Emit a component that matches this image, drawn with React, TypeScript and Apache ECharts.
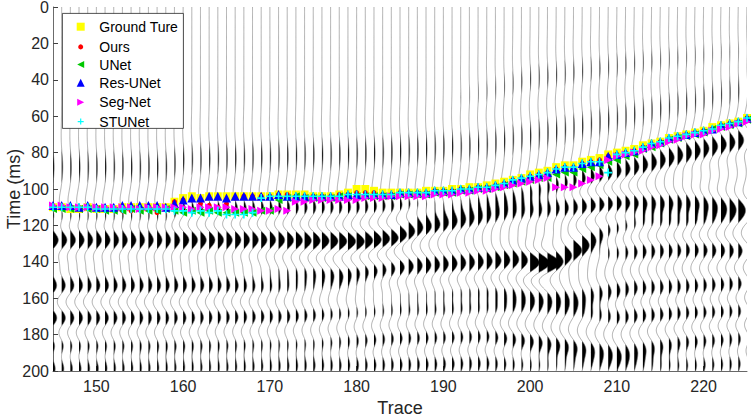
import React, { useEffect, useRef } from 'react';
import * as echarts from 'echarts';

const TRACES = [
  145, 146, 147, 148, 149, 150, 151, 152, 153, 154, 155, 156, 157, 158, 159, 160, 161, 162, 163, 164,
  165, 166, 167, 168, 169, 170, 171, 172, 173, 174, 175, 176, 177, 178, 179, 180, 181, 182, 183, 184,
  185, 186, 187, 188, 189, 190, 191, 192, 193, 194, 195, 196, 197, 198, 199, 200, 201, 202, 203, 204,
  205, 206, 207, 208, 209, 210, 211, 212, 213, 214, 215, 216, 217, 218, 219, 220, 221, 222, 223, 224, 225,
];

const GROUND_TRUTH = [
  110, 110, 111, 111, 110, 111, 111, 111, 110, 110, 110, 110, 110, 110,
  107, 105, 104, 105, 104, 104, 104, 104, 104, 104, 104, 104, 103, 103,
  103, 103, 104, 104, 104, 103, 102, 100, 100, 101, 102, 102, 102, 102, 102, 101, 101, 101, 100, 100, 99, 99, 98, 97, 96,
  95, 94, 92, 91, 90, 88, 87, 87, 85, 84, 83, 81, 80, 79, 78, 76, 75, 74, 72, 71, 70, 69, 68, 66, 65, 64, 63, 61,
];
const OURS = [
  110, 110, 110, 111, 110, 110, 111, 111, 112, 112, 111, 111, 113, 111,
  107, 106, 106, 108, 109, 110, 108, 105, 104, 104, 104, 104, 103, 103,
  104, 104, 104, 104, 104, 103, 103, 102, 102, 102, 103, 103, 102, 102, 102, 102, 101, 101, 101, 100, 100, 99, 99, 98, 97,
  95, 94, 93, 92, 91, 89, 88, 88, 86, 85, 84, 82, 81, 80, 79, 77, 76, 74, 73, 71, 70, 69, 68, 67, 65, 64, 63, 61,
];
const UNET = [
  111, 111, 111, 111, 111, 111, 112, 112, 112, 111, 112, 112, 112, 111,
  112, 113, 112, 113, 112, 113, 113, 113, 113, 113, 112, 112, 106, 105,
  104, 105, 105, 105, 105, 104, 104, 104, 104, 104, 104, 104, 103, 103, 103, 103, 102, 102, 102, 101, 101, 100, 100, 99, 98,
  97, 96, 95, 94, 94, 92, 91, 91, 89, 88, 87, 85, 84, 82, 81, 78, 77, 75, 73, 72, 71, 70, 69, 67, 66, 65, 64, 62,
];
const RES_UNET = [
  109, 109, 109, 110, 109, 110, 110, 110, 109, 109, 109, 109, 109, 110,
  108, 106, 105, 105, 104, 104, 105, 104, 104, 104, 104, 104, 103, 104,
  104, 104, 104, 104, 104, 104, 103, 103, 103, 103, 103, 103, 102, 102, 102, 102, 101, 101, 101, 100, 100, 99, 99, 98, 97,
  95, 94, 93, 92, 91, 89, 88, 88, 86, 85, 85, 82, 81, 80, 79, 77, 75, 74, 72, 71, 70, 69, 68, 67, 65, 64, 63, 61,
];
const SEG_NET = [
  109, 109, 110, 110, 110, 110, 110, 110, 110, 110, 111, 110, 110, 110,
  110, 110, 111, 110, 110, 110, 110, 111, 111, 111, 112, 112, 111, 112,
  107, 107, 106, 106, 106, 106, 106, 106, 105, 105, 105, 104, 104, 104, 104, 104, 103, 103, 103, 102, 102, 101, 101, 100, 99,
  98, 97, 96, 95, 94, 99, 99, 99, 97, 95, 93, 84, 82, 81, 80, 79, 77, 76, 74, 73, 71, 70, 70, 68, 67, 66, 64, 63,
];
const STUNET = [
  110, 110, 110, 110, 110, 111, 111, 111, 111, 111, 111, 111, 111, 111,
  112, 112, 113, 112, 113, 112, 114, 114, 114, 113, 105, 104, 104, 104,
  104, 104, 104, 104, 104, 104, 103, 103, 103, 103, 103, 103, 102, 102, 102, 102, 101, 101, 101, 100, 100, 99, 99, 98, 97,
  95, 94, 93, 92, 91, 89, 88, 88, 86, 85, 85, 91, 81, 80, 79, 77, 75, 74, 72, 71, 70, 69, 68, 67, 65, 64, 63, 61,
];

const X_TICKS = [150, 160, 170, 180, 190, 200, 210, 220];

// Reflection events read from the section: [trace, time (ms), amplitude] control points, f = peak frequency (Hz)
type SeisEvent = { f: number; pts: number[][] };
const EVENTS: SeisEvent[] = [
  { f: 22, pts: [[145, 88, 0.13], [158, 88, 0.13], [160, 84, 0.12], [183, 80, 0.13], [195, 75, 0.12], [205, 66, 0.12], [215, 55, 0.12], [225, 44, 0.12]] },
  { f: 25, pts: [[192, 52, 0.05], [200, 40, 0.1], [212, 32, 0.1], [225, 25, 0.08]] },
  { f: 38, pts: [[145, 116, 0.45], [158, 116, 0.45], [160, 112, 0.4], [183, 110, 0.4], [190, 109, 0.45], [198, 104, 0.5], [205, 96, 0.55], [212, 88, 0.6], [218, 80, 0.65], [225, 72, 0.65]] },
  { f: 38, pts: [[145, 128, 0.9], [170, 128, 0.8], [180, 129, 1.0], [184, 127, 0.95], [187, 121, 0.85], [192, 117, 0.8], [197, 113, 0.6], [203, 110, 0.6], [210, 108, 0.8], [218, 108, 0.8], [225, 110, 0.8]] },
  { f: 38, pts: [[145, 141, 0.3], [165, 141, 0.25], [172, 145, 0.4], [178, 147, 0.65], [185, 143, 0.7], [192, 141, 0.7], [198, 139, 0.75], [202, 141, 0.8]] },
  { f: 38, pts: [[200, 142, 0.4], [203, 140, 0.85], [206, 130, 0.75], [209, 122, 0.6], [213, 118, 0.65], [218, 118, 0.7], [225, 116, 0.55]] },
  { f: 38, pts: [[205, 135, 0.2], [212, 134, 0.5], [218, 133, 0.55], [225, 134, 0.55]] },
  { f: 38, pts: [[145, 153, 0.6], [165, 153, 0.55], [175, 155, 0.4], [185, 157, 0.4], [195, 156, 0.5], [205, 160, 0.6], [212, 155, 0.5], [218, 154, 0.5], [225, 152, 0.5]] },
  { f: 38, pts: [[145, 171, 0.6], [160, 171, 0.5], [172, 170, 0.5], [180, 168, 0.4], [190, 167, 0.5], [200, 165, 0.5], [210, 170, 0.5], [218, 168, 0.55], [225, 167, 0.5]] },
  { f: 38, pts: [[145, 186, 0.5], [160, 186, 0.5], [175, 185, 0.4], [185, 182, 0.5], [195, 181, 0.5], [203, 186, 0.65], [210, 190, 0.55], [218, 184, 0.55], [225, 182, 0.5]] },
  { f: 38, pts: [[145, 198, 0.45], [165, 197, 0.4], [180, 196, 0.4], [195, 195, 0.4], [210, 197, 0.4], [225, 195, 0.4]] },
];

const GAIN = 1.0;
const TIMES: number[] = [];
for (let t = 0; t <= 200; t += 0.5) TIMES.push(t);

function ricker(tauMs: number, f: number) {
  const a = (Math.PI * f * tauMs) / 1000;
  const a2 = a * a;
  return (1 - 2 * a2) * Math.exp(-a2);
}

function eventAt(ev: SeisEvent, n: number): [number, number] | null {
  const p = ev.pts;
  if (n < p[0][0] || n > p[p.length - 1][0]) return null;
  for (let i = 0; i < p.length - 1; i++) {
    if (n >= p[i][0] && n <= p[i + 1][0]) {
      const r = (n - p[i][0]) / (p[i + 1][0] - p[i][0] || 1);
      return [p[i][1] + r * (p[i + 1][1] - p[i][1]), p[i][2] + r * (p[i + 1][2] - p[i][2])];
    }
  }
  return [p[0][1], p[0][2]];
}

const WIGGLES: number[][] = TRACES.map((n) => {
  const evs = EVENTS.map((ev) => ({ e: eventAt(ev, n), f: ev.f }));
  return TIMES.map((t) => {
    let s = 0;
    for (const { e, f } of evs) {
      if (!e) continue;
      s += e[1] * ricker(t - e[0], f);
    }
    return s;
  });
});

const FONT = '"Liberation Sans", Arial, Helvetica, sans-serif';

const LEFT_TRI = 'path://M0,5L10,0L10,10Z';
const RIGHT_TRI = 'path://M10,5L0,0L0,10Z';
const PLUS = 'path://M4,0H6V4H10V6H6V10H4V6H0V4H4Z';

const METHODS = [
  { name: 'Ground Ture', data: GROUND_TRUTH, color: '#ffff00', symbol: 'rect', size: 8, legendSize: 8 },
  { name: 'Ours', data: OURS, color: '#ff0000', symbol: 'circle', size: 5, legendSize: 5 },
  { name: 'UNet', data: UNET, color: '#00c800', symbol: LEFT_TRI, size: 8, legendSize: 7 },
  { name: 'Res-UNet', data: RES_UNET, color: '#0000ff', symbol: 'triangle', size: 9, legendSize: 8 },
  { name: 'Seg-Net', data: SEG_NET, color: '#ff00ff', symbol: RIGHT_TRI, size: 8, legendSize: 7 },
  { name: 'STUNet', data: STUNET, color: '#00ffff', symbol: PLUS, size: 8, legendSize: 6 },
];

const LEGEND_Y = [23.7, 42.4, 61.1, 79.8, 98.8, 117.6];

export default function App() {
  const ref = useRef<HTMLDivElement>(null);
  useEffect(() => {
    if (!ref.current) return;
    const chart = echarts.init(ref.current, null, { renderer: 'svg' });

    const traceSeries = {
      type: 'custom',
      name: 'traces',
      data: TRACES.map((n) => [n, 0]),
      clip: true,
      silent: true,
      z: 1,
      renderItem: (params: any, api: any) => {
        const idx = params.dataIndex;
        const n = TRACES[idx];
        const amps = WIGGLES[idx];
        const line: number[][] = [];
        const children: any[] = [];
        let run: number[][] | null = null;
        for (let k = 0; k < TIMES.length; k++) {
          const a = amps[k];
          const p = api.coord([n + a * GAIN, TIMES[k]]);
          line.push(p);
          if (a > 0) {
            if (!run) {
              let tz = TIMES[k];
              if (k > 0) {
                const a0 = amps[k - 1];
                tz = TIMES[k - 1] + ((TIMES[k] - TIMES[k - 1]) * -a0) / (a - a0);
              }
              run = [api.coord([n, tz])];
            }
            run.push(p);
          } else if (run) {
            const a0 = amps[k - 1];
            const tz = TIMES[k - 1] + ((TIMES[k] - TIMES[k - 1]) * a0) / (a0 - a);
            run.push(api.coord([n, tz]));
            children.push({ type: 'polygon', shape: { points: run }, style: { fill: '#000', stroke: null } });
            run = null;
          }
        }
        if (run) {
          run.push(api.coord([n, TIMES[TIMES.length - 1]]));
          children.push({ type: 'polygon', shape: { points: run }, style: { fill: '#000', stroke: null } });
        }
        children.push({
          type: 'polyline',
          shape: { points: line },
          style: { stroke: '#7a7a7a', lineWidth: 0.6, fill: null },
        });
        return { type: 'group', children };
      },
    };

    const scatterSeries = METHODS.map((m) => ({
      type: 'scatter',
      name: m.name,
      data: TRACES.map((n, i) => [n, m.data[i]]),
      symbol: m.symbol,
      symbolSize: m.size,
      itemStyle: { color: m.color, borderWidth: 0, opacity: 1 },
      clip: true,
      z: 2,
      silent: true,
    }));

    const legends = METHODS.map((m, i) => {
      const s = m.legendSize;
      return {
        show: true,
        left: 80.7 - s / 2,
        top: LEGEND_Y[i] - s / 2,
        orient: 'vertical',
        padding: 0,
        itemGap: 0,
        itemWidth: s,
        itemHeight: s,
        selectedMode: false,
        z: 5,
        data: [{ name: m.name, icon: m.symbol, itemStyle: { color: m.color } }],
        textStyle: {
          fontFamily: FONT,
          fontSize: 14,
          color: '#000',
          padding: [0, 0, 0, 13.6 - s / 2],
        },
      };
    });

    const option: any = {
      animation: false,
      backgroundColor: '#fff',
      grid: { left: 53, right: 7, top: 7, bottom: 46, containLabel: false, outerBoundsMode: 'none' },
      xAxis: {
        type: 'value',
        min: 145,
        max: 225,
        name: 'Trace',
        nameLocation: 'middle',
        nameGap: 28,
        nameMoveOverlap: false,
        nameTextStyle: { fontFamily: FONT, fontSize: 18, color: '#262626' },
        axisLine: { show: true, onZero: false, lineStyle: { color: '#404040', width: 0.8 } },
        axisTick: { show: true, inside: true, length: 5, customValues: X_TICKS, lineStyle: { color: '#404040' } },
        axisLabel: { customValues: X_TICKS, margin: 7, fontFamily: FONT, fontSize: 16, color: '#262626' },
        splitLine: { show: false },
      },
      yAxis: {
        type: 'value',
        inverse: true,
        min: 0,
        max: 200,
        interval: 20,
        name: 'Time (ms)',
        nameLocation: 'middle',
        nameGap: 30,
        nameMoveOverlap: false,
        nameTextStyle: { fontFamily: FONT, fontSize: 18, color: '#262626' },
        axisLine: { show: true, onZero: false, lineStyle: { color: '#404040', width: 0.8 } },
        axisTick: { show: true, inside: true, length: 5, lineStyle: { color: '#404040' } },
        axisLabel: { margin: 4, fontFamily: FONT, fontSize: 16, color: '#262626' },
        splitLine: { show: false },
      },
      legend: legends,
      graphic: [
        {
          type: 'rect',
          left: 62,
          top: 13,
          z: 3,
          shape: { width: 121, height: 115 },
          style: { fill: '#fff', stroke: '#262626', lineWidth: 0.8 },
          silent: true,
        },
      ],
      series: [traceSeries, ...scatterSeries],
    };

    chart.setOption(option);
    return () => chart.dispose();
  }, []);

  return <div ref={ref} style={{ position: 'fixed', left: 0, top: 0, width: 754, height: 417 }} />;
}
